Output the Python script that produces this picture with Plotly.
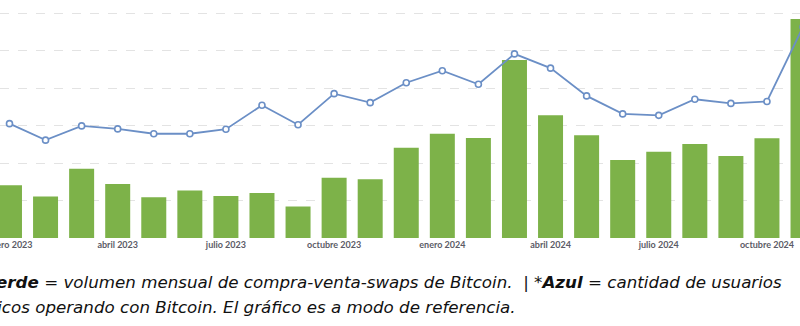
import plotly.graph_objects as go

months = ["2023-01", "2023-02", "2023-03", "2023-04", "2023-05", "2023-06",
          "2023-07", "2023-08", "2023-09", "2023-10", "2023-11", "2023-12",
          "2024-01", "2024-02", "2024-03", "2024-04", "2024-05", "2024-06",
          "2024-07", "2024-08", "2024-09", "2024-10", "2024-11"]

volumen = [14.1, 11.1, 18.5, 14.4, 10.9, 12.7, 11.2, 12.0, 8.4, 16.1, 15.7, 24.1,
           27.8, 26.7, 47.5, 32.7, 27.4, 20.8, 23.0, 25.1, 21.9, 26.6, 58.4]

usuarios = [30.5, 26.1, 29.9, 29.1, 27.8, 27.8, 29.0, 35.4, 30.2, 38.5, 36.1, 41.4,
            44.6, 41.0, 49.1, 45.3, 37.9, 33.1, 32.7, 37.0, 35.9, 36.4, 56.3]

tick_months = ["2023-01", "2023-04", "2023-07", "2023-10",
               "2024-01", "2024-04", "2024-07", "2024-10"]
tick_labels = ["enero 2023", "abril 2023", "julio 2023", "octubre 2023",
               "enero 2024", "abril 2024", "julio 2024", "octubre 2024"]

nota_1 = "*<b>Verde</b> = volumen mensual de compra-venta-swaps de Bitcoin.  | *<b>Azul</b> = cantidad de usuarios"
nota_2 = "únicos operando con Bitcoin. El gráfico es a modo de referencia."

GREEN = "#7db249"
BLUE = "#6b8fc6"

fig = go.Figure()
fig.add_trace(go.Bar(x=months, y=volumen, marker=dict(color=GREEN, line=dict(width=0)),
                     name="Volumen"))
fig.add_trace(go.Scatter(x=months, y=usuarios, mode="lines+markers", yaxis="y2",
                         line=dict(color=BLUE, width=1.8),
                         marker=dict(size=6, color="white", line=dict(color=BLUE, width=1.6)),
                         name="Usuarios"))

ymax = 238 / 3.75
fig.update_layout(
    width=800, height=326,
    margin=dict(l=0, r=0, t=0, b=88, autoexpand=False),
    paper_bgcolor="white", plot_bgcolor="white",
    showlegend=False,
    bargap=0.307,
    xaxis=dict(type="category", categoryorder="array", categoryarray=months,
               range=[-0.263, 21.916], tickmode="array", automargin=False,
               tickvals=tick_months, ticktext=tick_labels,
               tickfont=dict(family="Lato", size=9, color="#5b5b66", weight="bold"),
               ticks="", showgrid=False, showline=False, zeroline=False),
    yaxis=dict(range=[0, ymax], dtick=10, showticklabels=False, showgrid=True,
               gridcolor="#e3e3e3", griddash="dash", gridwidth=1, zeroline=False,
               automargin=False),
    yaxis2=dict(range=[0, ymax], overlaying="y", showticklabels=False,
                showgrid=False, zeroline=False, automargin=False),
)

fig.add_annotation(
    xref="paper", yref="paper", x=784 / 800, y=(238 - 282) / 238,
    xanchor="right", yanchor="middle", align="left", showarrow=False,
    text="<i>" + nota_1 + "</i>",
    font=dict(family="DejaVu Sans", size=16.7, color="#111111"),
)
fig.add_annotation(
    xref="paper", yref="paper", x=-26 / 800, y=(238 - 307) / 238,
    xanchor="left", yanchor="middle", align="left", showarrow=False,
    text="<i>" + nota_2 + "</i>",
    font=dict(family="DejaVu Sans", size=16.7, color="#111111"),
)

fig.write_html("out.html")
